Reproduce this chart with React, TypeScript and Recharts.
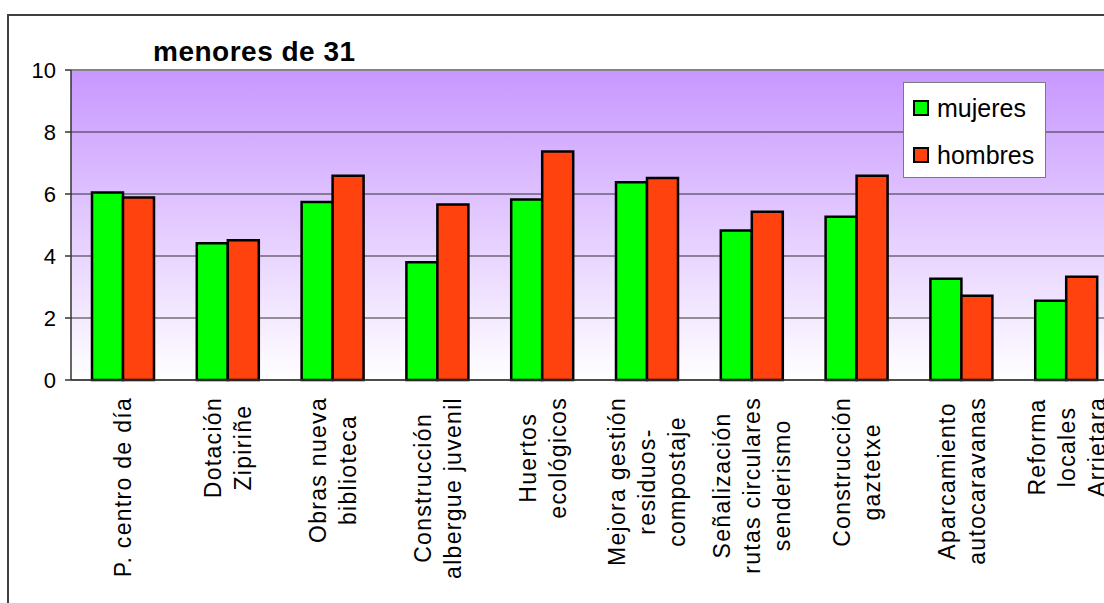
import React from "react";
import {
  Bar,
  BarChart,
  CartesianGrid,
  Legend,
  ReferenceLine,
  XAxis,
  YAxis,
} from "recharts";

const categorias = [
  "P. centro de día",
  "Dotación\nZipiriñe",
  "Obras nueva\nbiblioteca",
  "Construcción\nalbergue juvenil",
  "Huertos\necológicos",
  "Mejora gestión\nresiduos-\ncompostaje",
  "Señalización\nrutas circulares\nsenderismo",
  "Construcción\ngaztetxe",
  "Aparcamiento\nautocaravanas",
  "Reforma\nlocales\nArrietara",
];

const mujeres = [6.05, 4.41, 5.74, 3.8, 5.82, 6.38, 4.82, 5.27, 3.27, 2.56];
const hombres = [5.89, 4.51, 6.59, 5.66, 7.37, 6.52, 5.43, 6.59, 2.72, 3.33];

const series = ["mujeres", "hombres"];
const yTicks = [0, 2, 4, 6, 8, 10];
// marcas entre categorías (eje auxiliar numérico 0..n)
const separadores = [0, 1, 2, 3, 4, 5, 6, 7, 8, 9, 10];

const data = categorias.map((c, i) => ({
  categoria: c,
  mujeres: mujeres[i],
  hombres: hombres[i],
}));

const FONT = '"Liberation Sans", Arial, sans-serif';
const LABEL_FS = 23;
const LABEL_LS = 1.3;
const LINE_H = 30;
const LABEL_TOP = 17;

let ctx: CanvasRenderingContext2D | null = null;
function anchoTexto(s: string) {
  if (!ctx && typeof document !== "undefined") {
    ctx = document.createElement("canvas").getContext("2d");
  }
  if (!ctx) return s.length * 11;
  ctx.font = `${LABEL_FS}px ${FONT}`;
  return ctx.measureText(s).width + s.length * LABEL_LS;
}

function CategoriaTick(props: any) {
  const { x, y, payload } = props;
  const lines: string[] = String(payload.value).split("\n");
  const maxW = Math.max(...lines.map(anchoTexto));
  const n = lines.length;
  return (
    <g transform={`translate(${x},${y})`}>
      {lines.map((l, i) => {
        const dx = (i - (n - 1) / 2) * LINE_H;
        return (
          <text
            key={i}
            transform="rotate(-90)"
            x={-(LABEL_TOP + maxW / 2)}
            y={dx + 0.35 * LABEL_FS}
            textAnchor="middle"
            fontSize={LABEL_FS}
            fontFamily={FONT}
            letterSpacing={LABEL_LS}
            fill="#000"
          >
            {l}
          </text>
        );
      })}
    </g>
  );
}

function Leyenda(props: any) {
  const payload: any[] = props.payload || [];
  const items = series
    .map((s) => payload.find((p) => p.value === s || p.dataKey === s))
    .filter(Boolean);
  return (
    <div
      style={{
        position: "relative",
        width: 143,
        height: 96,
        boxSizing: "border-box",
        background: "#fff",
        border: "1px solid #7a7a7a",
        fontFamily: FONT,
      }}
    >
      {items.map((p: any, i: number) => (
        <div
          key={p.value}
          style={{
            position: "absolute",
            left: 9,
            top: 8 + i * 47,
            height: 34,
            display: "flex",
            alignItems: "center",
          }}
        >
          <span
            style={{
              width: 16,
              height: 16,
              boxSizing: "border-box",
              border: "2px solid #000",
              background: p.color,
              marginRight: 8,
            }}
          />
          <span style={{ fontSize: 25, lineHeight: 1, color: "#000" }}>
            {p.value}
          </span>
        </div>
      ))}
    </div>
  );
}

export default function App() {
  return (
    <div
      style={{
        position: "absolute",
        left: 0,
        top: 0,
        width: 1104,
        height: 603,
        overflow: "hidden",
        background: "#fff",
      }}
    >
      <div
        style={{
          position: "absolute",
          left: 7,
          top: 14,
          width: 1200,
          height: 700,
          borderLeft: "2px solid #404040",
          borderTop: "2px solid #404040",
        }}
      />
      <div
        style={{
          position: "absolute",
          left: 153,
          top: 38,
          fontFamily: FONT,
          fontWeight: "bold",
          fontSize: 28,
          lineHeight: "28px",
          letterSpacing: 0.5,
          whiteSpace: "nowrap",
          color: "#000",
        }}
      >
        menores de 31
      </div>
      <div style={{ position: "absolute", left: 0, top: 0 }}>
        <BarChart
          width={1200}
          height={603}
          data={data}
          margin={{ top: 70, right: 81, left: 0, bottom: 73 }}
          barGap={0}
          barSize={31}
        >
          <defs>
            <linearGradient id="fondo" x1="0" y1="0" x2="0" y2="1">
              <stop offset="0%" stopColor="#c897ff" />
              <stop offset="100%" stopColor="#ffffff" />
            </linearGradient>
          </defs>
          <CartesianGrid
            vertical={false}
            stroke="#333333"
            strokeWidth={1.2}
            fill="url(#fondo)"
            fillOpacity={1}
          />
          <XAxis
            xAxisId="sep"
            type="number"
            domain={[0, 10]}
            ticks={separadores}
            interval={0}
            allowDataOverflow
            height={0}
            axisLine={false}
            tick={false}
            tickSize={7}
            tickLine={{ stroke: "#333333", strokeWidth: 1.5 }}
          />
          <XAxis
            dataKey="categoria"
            interval={0}
            height={150}
            tickLine={false}
            tickSize={0}
            tickMargin={0}
            axisLine={{ stroke: "#333333", strokeWidth: 1.5 }}
            tick={<CategoriaTick />}
          />
          <YAxis
            width={71}
            domain={[0, 10]}
            ticks={yTicks}
            interval={0}
            tickSize={6}
            tickMargin={9}
            axisLine={{ stroke: "#333333", strokeWidth: 1.5 }}
            tickLine={{ stroke: "#333333", strokeWidth: 1.5 }}
            tick={{ fill: "#000", fontSize: 22, fontFamily: FONT }}
          />
          <ReferenceLine y={10} stroke="#858585" strokeWidth={2} />
          <Legend
            layout="horizontal"
            verticalAlign="middle"
            align="center"
            content={<Leyenda />}
            wrapperStyle={{
              position: "absolute",
              left: 903,
              top: 82,
              width: 143,
              height: 96,
            }}
          />
          <Bar
            dataKey="mujeres"
            name="mujeres"
            fill="#00ff00"
            stroke="#000"
            strokeWidth={2.5}
            isAnimationActive={false}
          />
          <Bar
            dataKey="hombres"
            name="hombres"
            fill="#ff420e"
            stroke="#000"
            strokeWidth={2.5}
            isAnimationActive={false}
          />
        </BarChart>
      </div>
    </div>
  );
}
